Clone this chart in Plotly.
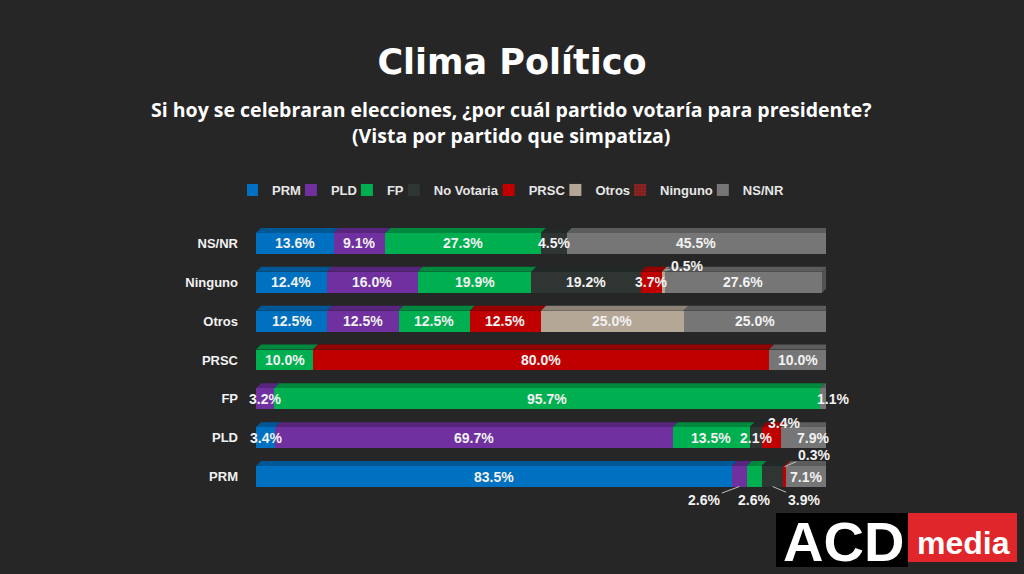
import plotly.graph_objects as go

# rows (top to bottom) and series, values in %
rows = ["NS/NR", "Ninguno", "Otros", "PRSC", "FP", "PLD", "PRM"]
series = ["PRM", "PLD", "FP", "No Votaria", "PRSC", "Otros", "Ninguno", "NS/NR"]

prm = [13.6, 12.4, 12.5, 0.0, 0.0, 3.4, 83.5]
pld = [9.1, 16.0, 12.5, 0.0, 3.2, 69.7, 2.6]
fp = [27.3, 19.9, 12.5, 10.0, 95.7, 13.5, 2.6]
no_votaria = [4.5, 19.2, 0.0, 0.0, 0.0, 2.1, 3.9]
prsc = [0.0, 3.7, 12.5, 80.0, 0.0, 3.4, 0.3]
otros = [0.0, 0.5, 25.0, 0.0, 0.0, 0.0, 0.0]
ninguno = [0.0, 0.0, 0.0, 0.0, 0.0, 0.0, 0.0]
ns_nr = [45.5, 27.6, 25.0, 10.0, 1.1, 7.9, 7.1]

values = [prm, pld, fp, no_votaria, prsc, otros, ninguno, ns_nr]
colors = ["#0070C0", "#7030A0", "#00B050", "#2E3533", "#C00000", "#B4A796", "#7A1E1E", "#767676"]

# label tweaks for thin segments: (row, series) -> (xshift, yshift, ax, ay) in px
# without arrow: shift of the text; with arrow: shift of the arrow tip, ax/ay = text offset from tip
label_moves = {
    ("Ninguno", "Otros"): (2, 12, 22, -4),
    ("FP", "NS/NR"): (10, 0, None, None),
    ("PLD", "PRSC"): (13, 15, None, None),
    ("PLD", "NS/NR"): (10, 0, None, None),
    ("PRM", "PLD"): (0, -10, -35, 13),
    ("PRM", "FP"): (0, -23, None, None),
    ("PRM", "No Votaria"): (0, -10, 31, 13),
    ("PRM", "PRSC"): (0, 10, 29, -12),
}

W, H = 1024, 574
ML, MR, MT, MB = 256, 198, 224, 78
PW, PH = W - ML - MR, H - MT - MB
BAR_W = 0.54
DEPTH_X = 5 / PW * 100
DEPTH_Y = 5 / PH * len(rows)


def shade(hexcol, f):
    r, g, b = (int(hexcol[i:i + 2], 16) for i in (1, 3, 5))
    return "#%02x%02x%02x" % (int(r * f), int(g * f), int(b * f))


def px_x(p):
    return (p - ML) / PW


def px_y(p):
    return (H - MB - p) / PH


ypos = list(range(len(rows)))
fig = go.Figure()

for name, vals, col in zip(series, values, colors):
    marker = dict(color=col, line=dict(width=0))
    if name == "Ninguno":
        marker["pattern"] = dict(shape=".", fgcolor="#B03030", bgcolor=col, size=4, solidity=0.4)
    fig.add_trace(go.Bar(y=ypos, x=vals, name=name, orientation="h", marker=marker,
                         width=BAR_W, hoverinfo="skip"))

shapes = []
annotations = []
lab_font = dict(family="Liberation Sans", size=14, color="#F2F2F2", weight="bold")

for i, row in enumerate(rows):
    start = 0.0
    top = i - BAR_W / 2
    end = 0.0
    for name, vals, col in zip(series, values, colors):
        v = vals[i]
        if v <= 0:
            continue
        end = start + v
        # top face of the 3D bar
        shapes.append(dict(type="path", xref="x", yref="y", line=dict(width=0), fillcolor=shade(col, 0.78),
                           path=f"M {start},{top} L {start + DEPTH_X},{top - DEPTH_Y} "
                                f"L {end + DEPTH_X},{top - DEPTH_Y} L {end},{top} Z", layer="below"))
        ann = dict(x=start + v / 2, y=i, text=f"{v:.1f}%", showarrow=False, font=lab_font,
                   xref="x", yref="y", xanchor="center", yanchor="middle")
        mv = label_moves.get((row, name))
        if mv:
            xs, ys, ax, ay = mv
            ann.update(xshift=xs, yshift=ys)
            if ax is not None:
                ann.update(showarrow=True, arrowhead=0, arrowwidth=1, arrowcolor="#BFBFBF",
                           ax=ax, ay=ay, standoff=0)
        annotations.append(ann)
        start = end
    # right face of the bar
    shapes.append(dict(type="path", xref="x", yref="y", line=dict(width=0), fillcolor="#525252",
                       path=f"M {end},{top} L {end + DEPTH_X},{top - DEPTH_Y} "
                            f"L {end + DEPTH_X},{top + BAR_W - DEPTH_Y} L {end},{top + BAR_W} Z", layer="below"))

# subtitle
sub_font = dict(family="Open Sans", size=19.5, color="white", weight="bold")
annotations.append(dict(x=px_x(511), y=px_y(110), xref="paper", yref="paper", showarrow=False,
                        xanchor="center", yanchor="middle", font=sub_font,
                        text="Si hoy se celebraran elecciones, ¿por cuál partido votaría para presidente?"))
annotations.append(dict(x=px_x(511), y=px_y(135), xref="paper", yref="paper", showarrow=False,
                        xanchor="center", yanchor="middle", font=sub_font,
                        text="(Vista por partido que simpatiza)"))

# logo
shapes.append(dict(type="rect", xref="paper", yref="paper", x0=px_x(776), x1=px_x(908),
                   y0=px_y(567), y1=px_y(513), fillcolor="black", line=dict(width=0)))
shapes.append(dict(type="rect", xref="paper", yref="paper", x0=px_x(908), x1=px_x(1017),
                   y0=px_y(562), y1=px_y(513), fillcolor="#E0252B", line=dict(width=0)))
annotations.append(dict(x=px_x(843), y=px_y(541), xref="paper", yref="paper", showarrow=False,
                        xanchor="center", yanchor="middle", text="ACD",
                        font=dict(family="Liberation Sans", size=56, color="white", weight="bold")))
annotations.append(dict(x=px_x(963), y=px_y(543), xref="paper", yref="paper", showarrow=False,
                        xanchor="center", yanchor="middle", text="media",
                        font=dict(family="Liberation Sans", size=32, color="white", weight="bold")))

fig.update_layout(
    width=W, height=H,
    barmode="stack",
    paper_bgcolor="#262626", plot_bgcolor="#262626",
    margin=dict(l=ML, r=MR, t=MT, b=MB),
    title=dict(text="Clima Político", x=0.5, xanchor="center", y=1 - 62 / H, yanchor="middle",
               font=dict(family="DejaVu Sans", size=35, color="white", weight="bold")),
    legend=dict(orientation="h", x=px_x(518), xanchor="center", y=px_y(190), yanchor="middle",
                font=dict(family="Liberation Sans", size=13, color="#E6E6E6", weight="bold"),
                itemwidth=30, indentation=-15, traceorder="normal", bgcolor="rgba(0,0,0,0)"),
    xaxis=dict(range=[0, 100], visible=False, fixedrange=True),
    yaxis=dict(range=[len(rows) - 0.5, -0.5], tickvals=ypos, ticktext=rows, showgrid=False, zeroline=False,
               ticks="", ticklabelstandoff=17, fixedrange=True,
               tickfont=dict(family="Liberation Sans", size=13, color="#F2F2F2", weight="bold")),
    shapes=shapes,
    annotations=annotations,
    showlegend=True,
)

fig.write_html("out.html", config={"displayModeBar": False},
               post_script="document.body.style.margin='0';")
